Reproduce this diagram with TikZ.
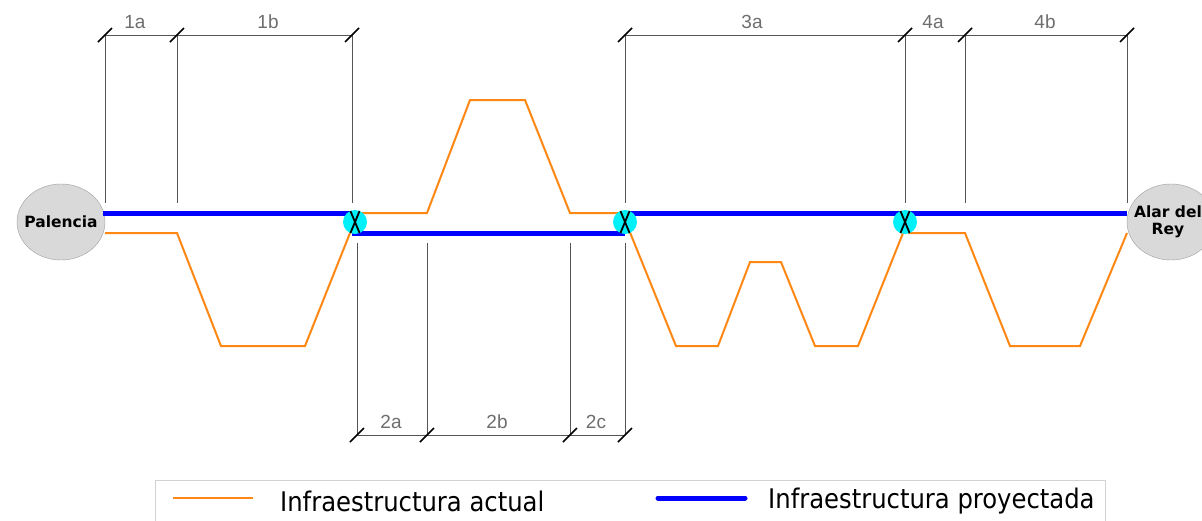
\documentclass[tikz,border=0pt]{standalone}
\usepackage{fontspec}
\setmainfont{DejaVu Sans}
\newfontfamily\condfont{DejaVu Sans Condensed}
\newfontfamily\dimfont{Liberation Sans}
\usetikzlibrary{shapes.geometric}
\definecolor{orng}{RGB}{255,135,20}
\definecolor{blu}{RGB}{0,0,255}
\definecolor{cyn}{RGB}{0,240,250}
\definecolor{cityfill}{RGB}{217,217,217}
\definecolor{dimgray}{RGB}{85,85,85}
\definecolor{labgray}{RGB}{110,110,110}
\begin{document}
\begin{tikzpicture}[x=1pt,y=-1pt,
  city/.style={ellipse, draw=gray!75, fill=cityfill, minimum width=88pt, minimum height=76pt, inner sep=0pt},
  citytext/.style={align=center, font=\bfseries\fontsize{15.5}{17.5}\selectfont, inner sep=0pt},
  junc/.style={circle, fill=cyn, minimum size=24pt, inner sep=0pt,
    path picture={\draw[black, line width=1.8pt]
      ([xshift=-5pt]path picture bounding box.north) -- ([xshift=5pt]path picture bounding box.south)
      ([xshift=5pt]path picture bounding box.north) -- ([xshift=-5pt]path picture bounding box.south);}},
  actual/.style={draw=orng, line width=2pt, line join=miter},
  proj/.style={draw=blu, line width=5pt},
  dimline/.style={draw=dimgray, line width=0.9pt},
  tick/.style={draw=black, line width=1.6pt},
  dimlab/.style={text=labgray, font=\dimfont\fontsize{19}{21}\selectfont, inner sep=0pt},
  legtext/.style={anchor=west, font=\condfont\fontsize{27}{29}\selectfont, inner sep=0pt}
]
\useasboundingbox (0,0) rectangle (1202,520);
\fill[white] (0,0) rectangle (1202,520);

% dimension coordinates
\foreach \n/\x in {a/105,b/177,c/352,d/625,e/905,f/965,g/1127}{
  \coordinate (t\n) at (\x,35);
  \coordinate (u\n) at (\x,203);
}
\foreach \n/\x in {a/357,b/427,c/570,d/625}{
  \coordinate (s\n) at (\x,435);
  \coordinate (r\n) at (\x,243);
}

% extension lines
\foreach \n in {a,b,c,d,e,f,g}{ \draw[dimline] (t\n) -- (u\n); }
\foreach \n in {a,b,c,d}{ \draw[dimline] (s\n) -- (r\n); }
\draw[dimline] (ta) -- (tc);
\draw[dimline] (td) -- (tg);
\draw[dimline] (sa) -- (sd);
\foreach \n in {a,b,c,d,e,f,g}{ \draw[tick] ([shift={(-7,7)}]t\n) -- ([shift={(7,-7)}]t\n); }
\foreach \n in {a,b,c,d}{ \draw[tick] ([shift={(-7,7)}]s\n) -- ([shift={(7,-7)}]s\n); }

% labels
\node[dimlab] (l1a) at (135,22) {1a};
\node[dimlab] (l1b) at (268,22) {1b};
\node[dimlab] (l3a) at (752,22) {3a};
\node[dimlab] (l4a) at (933,22) {4a};
\node[dimlab] (l4b) at (1045,22) {4b};
\node[dimlab] (l2a) at (391,422) {2a};
\node[dimlab] (l2b) at (497,422) {2b};
\node[dimlab] (l2c) at (596,422) {2c};

% cities
\node[city] (pal) at (61,222) {};
\node[citytext] (paltxt) at (pal.center) {Palencia};
\node[city] (alar) at (1171,222) {};
\node[citytext] (alartxt) at ([xshift=-3pt]alar.center) {Alar del\\Rey};

% junction positions
\coordinate (p1) at (355,222);
\coordinate (p2) at (625,222);
\coordinate (p3) at (905,222);

% actual infrastructure
\draw[actual] (105,233) -- (177,233) -- (221,346) -- (305,346) -- (352,228);
\draw[actual] (358,213) -- (427,213) -- (470,100) -- (525,100) -- (570,213) -- (622,213);
\draw[actual] (627,225) -- (676,346) -- (718,346) -- (750,262) -- (781,262) -- (815,346) -- (858,346) -- (905,228);
\draw[actual] (908,233) -- (965,233) -- (1010,346) -- (1080,346) -- (1127,233);

% projected infrastructure
\draw[proj] (pal.east |- 0,213) ++(-2,0) -- (352,213);
\draw[proj] (352,233) -- (625,233);
\draw[proj] (625,213) -- (alar.west |- 0,213);

% junctions
\node[junc] (j1) at (p1) {};
\node[junc] (j2) at (p2) {};
\node[junc] (j3) at (p3) {};

% legend
\draw[draw=gray!35, line width=0.8pt] (155,480) rectangle (1105,530);
\coordinate (la1) at (173,498);
\coordinate (la2) at (253,498);
\coordinate (lb1) at (658,498);
\coordinate (lb2) at (745,498);
\draw[actual, line width=2.5pt] (la1) -- (la2);
\draw[proj, line cap=round] (lb1) -- (lb2);
\node[legtext] (lta) at (280,501) {Infraestructura actual};
\node[legtext] (ltb) at (768,501) {Infraestructura proyectada};
\end{tikzpicture}
\end{document}
